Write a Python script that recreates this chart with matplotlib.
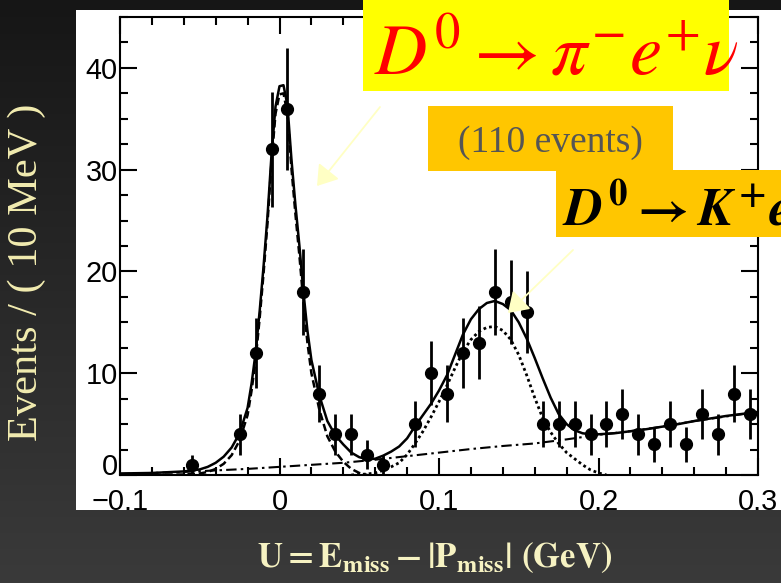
import numpy as np
import matplotlib.pyplot as plt
import matplotlib.ticker as ticker
from matplotlib.colors import LinearSegmentedColormap
from matplotlib.patches import Rectangle, FancyArrowPatch

plt.rcParams['mathtext.fontset'] = 'custom'
plt.rcParams['mathtext.rm'] = 'STIXGeneral:bold'
plt.rcParams['mathtext.bf'] = 'STIXGeneral:bold'
plt.rcParams['mathtext.it'] = 'STIXGeneral:bold:italic'
plt.rcParams['mathtext.fallback'] = 'stix'

# binned data, 10 MeV bins
bin_centers = [-0.055, -0.025, -0.015, -0.005, 0.005, 0.015, 0.025, 0.035, 0.045,
               0.055, 0.065, 0.085, 0.095, 0.105, 0.115, 0.125, 0.135, 0.145,
               0.155, 0.165, 0.175, 0.185, 0.195, 0.205, 0.215, 0.225, 0.235,
               0.245, 0.255, 0.265, 0.275, 0.285, 0.295]
counts = [1, 4, 12, 32, 36, 18, 8, 4, 4,
          2, 1, 5, 10, 8, 12, 13, 18, 17,
          16, 5, 5, 5, 4, 5, 6, 4, 3,
          5, 3, 6, 4, 8, 6]

# total fit
fit_u = [-0.100, -0.080, -0.060, -0.050, -0.045, -0.040, -0.035, -0.030, -0.025, -0.020,
         -0.0175, -0.015, -0.0125, -0.010, -0.0075, -0.005, -0.0025, 0.000, 0.0025, 0.005,
         0.0075, 0.010, 0.0125, 0.015, 0.0175, 0.020, 0.025, 0.030, 0.035, 0.040,
         0.045, 0.050, 0.055, 0.060, 0.065, 0.070, 0.075, 0.080, 0.085, 0.090,
         0.095, 0.100, 0.105, 0.110, 0.115, 0.120, 0.125, 0.130, 0.135, 0.140,
         0.145, 0.150, 0.155, 0.160, 0.165, 0.170, 0.175, 0.180, 0.185, 0.190,
         0.195, 0.200, 0.210, 0.220, 0.230, 0.240, 0.250, 0.260, 0.270, 0.280,
         0.290, 0.300]
fit_total = [0.15, 0.2, 0.35, 0.55, 0.8, 1.2, 1.8, 2.7, 4.1, 6.6,
             9.0, 12.0, 16.0, 20.5, 25.5, 31.5, 36.2, 38.2, 38.3, 36.3,
             31.0, 26.5, 22.5, 18.0, 14.2, 11.3, 7.8, 5.3, 3.9, 3.0,
             2.2, 1.75, 1.55, 1.6, 1.9, 2.3, 2.8, 3.6, 4.8, 5.9,
             7.0, 8.3, 9.8, 11.8, 13.8, 15.3, 16.3, 16.9, 17.1, 16.8,
             16.2, 15.0, 13.4, 11.5, 9.5, 7.6, 6.0, 5.0, 4.4, 4.1,
             4.0, 4.0, 4.1, 4.3, 4.5, 4.75, 5.0, 5.3, 5.55, 5.8,
             6.0, 6.2]

# D0 -> pi- e+ nu component
pienu_u = fit_u[:33]
pienu = [0.0, 0.0, 0.05, 0.15, 0.3, 0.6, 1.1, 1.95, 3.4, 5.9,
         8.3, 11.3, 15.3, 19.8, 24.8, 30.8, 35.5, 37.4, 37.5, 35.5,
         30.1, 25.6, 21.5, 17.0, 13.0, 10.0, 6.4, 3.8, 2.3, 1.3,
         0.6, 0.2, 0.0]

# D0 -> K- e+ nu component
kenu_u = [0.045, 0.050, 0.055, 0.060, 0.065, 0.070, 0.075, 0.080, 0.085, 0.090,
          0.095, 0.100, 0.105, 0.110, 0.115, 0.120, 0.125, 0.130, 0.135, 0.140,
          0.145, 0.150, 0.155, 0.160, 0.165, 0.170, 0.175, 0.180, 0.185, 0.190,
          0.195, 0.200, 0.205]
kenu = [0.0, 0.05, 0.1, 0.2, 0.45, 0.8, 1.2, 2.0, 3.1, 4.3,
        5.7, 7.2, 8.8, 10.5, 12.1, 13.3, 14.1, 14.5, 14.6, 14.2,
        13.3, 11.8, 9.8, 7.6, 5.6, 4.2, 3.1, 2.2, 1.6, 1.0,
        0.5, 0.2, 0.0]

# background
bkg_u = [-0.10, -0.08, -0.06, -0.04, -0.02, 0.00, 0.02, 0.04, 0.06, 0.08,
         0.10, 0.12, 0.14, 0.16, 0.18, 0.20, 0.22, 0.24, 0.26, 0.28, 0.30]
bkg = [0.1, 0.2, 0.3, 0.45, 0.6, 0.8, 1.0, 1.2, 1.5, 1.85,
       2.2, 2.55, 2.85, 3.1, 3.5, 3.95, 4.3, 4.75, 5.3, 5.75, 6.2]

W, H = 781, 583
fig = plt.figure(figsize=(W / 100, H / 100), dpi=100)

# dark slide background
bg = fig.add_axes([0, 0, 1, 1], zorder=-3)
grad = np.linspace(0, 1, 256).reshape(-1, 1)
bg.imshow(grad, cmap=LinearSegmentedColormap.from_list('bg', ['#161616', '#3a3a3a']),
          aspect='auto', extent=[0, 1, 0, 1])
bg.axis('off')

def box(x0, y0, x1, y1, color, z):
    fig.add_artist(Rectangle((x0 / W, 1 - y1 / H), (x1 - x0) / W, (y1 - y0) / H,
                             transform=fig.transFigure, facecolor=color,
                             edgecolor='none', zorder=z))

box(76, 10, 790, 510, 'white', -2)

ax = fig.add_axes([120 / W, 1 - 475 / H, 638 / W, 458 / H], zorder=0)
ax.plot(bkg_u, bkg, color='black', lw=1.5, dashes=[5, 2, 1.2, 2])
ax.plot(kenu_u, kenu, color='black', lw=2.0, linestyle=(0, (1, 1.1)))
ax.plot(pienu_u, pienu, color='black', lw=1.8, linestyle=(0, (3, 1.5)))
ax.plot(fit_u, fit_total, color='black', lw=1.8)
ax.errorbar(bin_centers, counts, yerr=np.sqrt(counts), fmt='o', color='black',
            ms=8.5, elinewidth=2, capsize=0, zorder=4)

ax.set_xlim(-0.1, 0.3)
ax.set_ylim(0, 45)
ax.xaxis.set_major_locator(ticker.MultipleLocator(0.1))
ax.xaxis.set_minor_locator(ticker.MultipleLocator(0.02))
ax.yaxis.set_major_locator(ticker.MultipleLocator(10))
ax.yaxis.set_minor_locator(ticker.MultipleLocator(2.5))
ax.xaxis.set_major_formatter(ticker.FuncFormatter(
    lambda v, p: '0' if abs(v) < 1e-9 else f'{v:.1f}'.replace('-', '\u2212')))
ax.yaxis.set_major_formatter(ticker.FuncFormatter(
    lambda v, p: '' if abs(v) < 1e-9 else f'{v:.0f}'))
ax.tick_params(which='both', direction='in', top=True, right=True, width=1.5)
ax.tick_params(which='major', length=12)
ax.tick_params(which='minor', length=6)
ax.tick_params(axis='x', labelsize=20.8, pad=9)
ax.tick_params(axis='y', labelsize=20.8, pad=1.5)
for lab in ax.get_xticklabels() + ax.get_yticklabels():
    lab.set_family('Liberation Sans')
ax.annotate('0', xy=(0, 0), xycoords=('axes fraction', 'data'), xytext=(-1.5, 0),
            textcoords='offset points', ha='right', va='baseline',
            fontsize=20.8, family='Liberation Sans')
for s in ax.spines.values():
    s.set_linewidth(1.5)

# axis titles
fig.text(27 / W, 1 - 272 / H, 'Events / ( 10 MeV )', rotation=90, ha='center',
         va='center', fontsize=30.5, family='Liberation Serif', color='#f2ecb0')
fig.text(435 / W, 1 - 567 / H, r'$\mathrm{U = E_{miss} - |P_{miss}|\ (GeV)}$',
         ha='center', va='baseline', fontsize=25, color='#f6f2c2')

# decay mode labels
box(363, -5, 729, 91, '#ffff00', 2)
box(428, 106, 673, 171, '#ffc600', 2)
box(556, 170, 800, 237, '#ffc600', 2)
fig.text(374 / W, 1 - 74 / H, r'$D^0 \rightarrow \pi^{-} e^{+} \nu$', color='red',
         fontsize=52, va='baseline', ha='left', math_fontfamily='stix', zorder=3)
fig.text(550 / W, 1 - 143 / H, '(110 events)', color='#555555', fontsize=27,
         family='Liberation Serif', ha='center', va='center', zorder=3)
fig.text(562 / W, 1 - 226 / H, r'$D^0 \rightarrow K^{+} e^{-}$', color='black',
         fontsize=38, va='baseline', ha='left', zorder=3)

# pointers
for (xa, ya), (xb, yb) in [((380, 107), (317, 186)), ((573, 250), (508, 313))]:
    fig.add_artist(FancyArrowPatch((xa / W, 1 - ya / H), (xb / W, 1 - yb / H),
                                   transform=fig.transFigure,
                                   arrowstyle='-|>,head_length=0.75,head_width=0.5',
                                   mutation_scale=16, color='#ffffc4', lw=1.3,
                                   shrinkA=0, shrinkB=0, zorder=3))

fig.savefig('out.png', dpi=100)
